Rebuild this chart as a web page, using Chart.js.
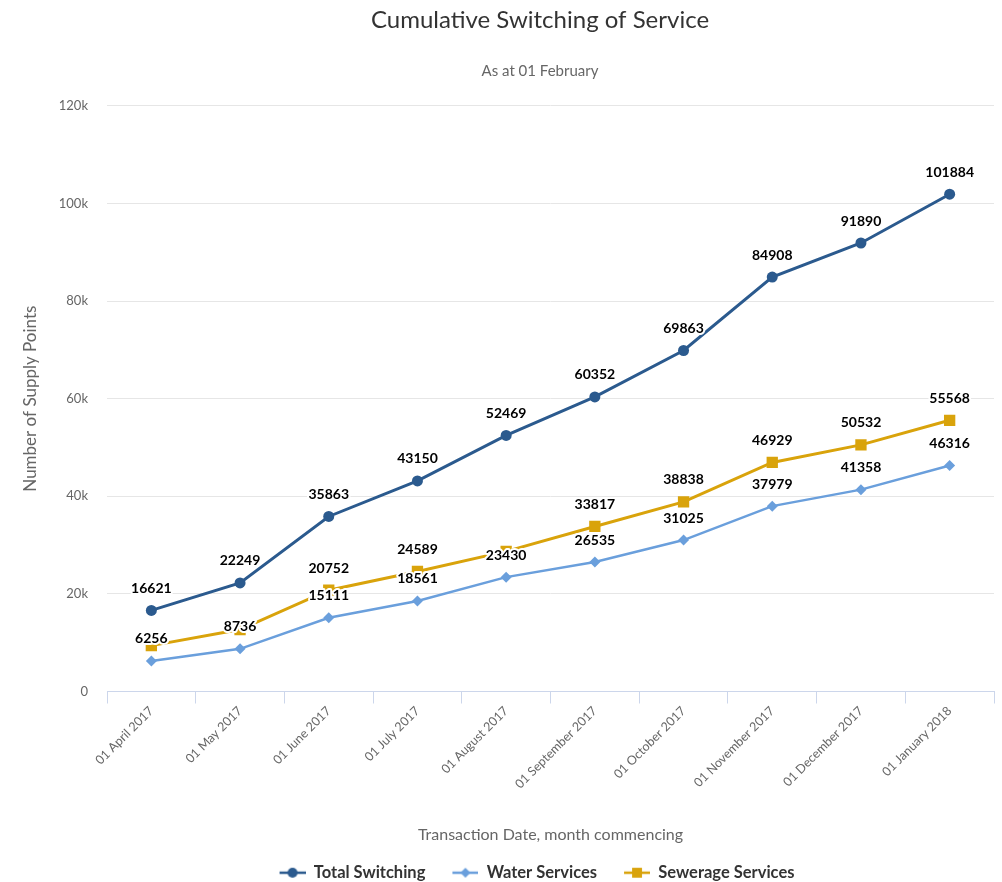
<!DOCTYPE html>
<html>
<head>
<meta charset="utf-8">
<script src="https://cdn.jsdelivr.net/npm/chart.js@4/dist/chart.umd.min.js"></script>
<style>
  html, body { margin: 0; padding: 0; background: #fff; overflow: hidden; }
  #wrap { width: 1002px; height: 882px; }
</style>
</head>
<body>
<div id="wrap"><canvas id="switchChart" width="1002" height="882"></canvas></div>
<script>
// month commencing
const categories = [
    "01 April 2017", "01 May 2017", "01 June 2017", "01 July 2017", "01 August 2017",
    "01 September 2017", "01 October 2017", "01 November 2017", "01 December 2017", "01 January 2018"
];
const totalSwitching = [16621, 22249, 35863, 43150, 52469, 60352, 69863, 84908, 91890, 101884];
const waterServices = [6256, 8736, 15111, 18561, 23430, 26535, 31025, 37979, 41358, 46316];
const sewerageServices = [9400, 12700, 20752, 24589, 28700, 33817, 38838, 46929, 50532, 55568];

const yMax = 120000;
const yStep = 20000;

const FONT = "Lato, 'Open Sans', sans-serif";
const colours = { total: "#2b5a8e", water: "#6a9fdc", sewerage: "#d9a30b" };

// title and legend are centred on this x rather than on the canvas middle
const HEADER_CENTRE = 540;
// legend symbols sit at the right of a wider box, so its block is pulled left a bit
const LEGEND_CENTRE = 527;
const LEGEND_DROP = 9;

// small line + marker picture for each legend entry
function legendSymbol(color, style, radius) {
    const c = document.createElement("canvas");
    c.width = 46; c.height = 16;
    const g = c.getContext("2d");
    g.strokeStyle = color;
    g.lineWidth = 2.5;
    g.beginPath();
    g.moveTo(20, 8);
    g.lineTo(46, 8);
    g.stroke();
    g.fillStyle = color;
    Chart.helpers.drawPoint(g, { pointStyle: style, radius: radius, rotation: 0, borderWidth: 0 }, 33, 8);
    return c;
}

// value labels above the points, skipping any that would collide with one already drawn
const pointLabels = {
    id: "pointLabels",
    afterDatasetsDraw(chart) {
        const ctx = chart.ctx;
        ctx.save();
        ctx.font = "bold 14px " + FONT;
        ctx.textAlign = "center";
        ctx.textBaseline = "middle";
        ctx.lineJoin = "round";
        const placed = [];
        chart.data.datasets.forEach((ds, i) => {
            const meta = chart.getDatasetMeta(i);
            meta.data.forEach((pt, j) => {
                const text = String(ds.data[j]);
                const w = ctx.measureText(text).width + 10;
                const h = 26;
                const cy = pt.y - 22;
                const box = { x: pt.x - w / 2, y: cy - h / 2, w: w, h: h };
                const hit = placed.some(b =>
                    box.x < b.x + b.w && b.x < box.x + box.w &&
                    box.y < b.y + b.h && b.y < box.y + box.h);
                if (hit) return;
                placed.push(box);
                ctx.strokeStyle = "#fff";
                ctx.lineWidth = 4;
                ctx.strokeText(text, pt.x, cy);
                ctx.fillStyle = "#000";
                ctx.fillText(text, pt.x, cy);
            });
        });
        ctx.restore();
    }
};

// move title, subtitle and legend boxes so they centre where wanted,
// and drop the legend a little closer to the bottom edge
const centreHeader = {
    id: "centreHeader",
    afterLayout(chart) {
        chart.boxes.forEach(box => {
            if (box instanceof Chart.Scale) return;
            if (box.position !== "top" && box.position !== "bottom") return;
            const centre = box === chart.legend ? LEGEND_CENTRE : HEADER_CENTRE;
            box.left = 0;
            box.right = centre * 2;
            box.width = box.right - box.left;
            if (box === chart.legend) {
                box.top += LEGEND_DROP;
                box.bottom += LEGEND_DROP;
            }
        });
    }
};

const ctx = document.getElementById("switchChart").getContext("2d");

const switchChart = new Chart(ctx, {
    type: "line",
    data: {
        labels: categories,
        datasets: [{
            label: "Total Switching",
            data: totalSwitching,
            borderColor: colours.total,
            backgroundColor: colours.total,
            borderWidth: 3,
            pointStyle: "circle",
            pointRadius: 5.5,
            pointHoverRadius: 5.5,
            pointBorderWidth: 0,
            symbol: legendSymbol(colours.total, "circle", 5)
        }, {
            label: "Water Services",
            data: waterServices,
            borderColor: colours.water,
            backgroundColor: colours.water,
            borderWidth: 2.5,
            pointStyle: "rectRot",
            pointRadius: 5.5,
            pointHoverRadius: 5.5,
            pointBorderWidth: 0,
            symbol: legendSymbol(colours.water, "rectRot", 5)
        }, {
            label: "Sewerage Services",
            data: sewerageServices,
            borderColor: colours.sewerage,
            backgroundColor: colours.sewerage,
            borderWidth: 3,
            pointStyle: "rect",
            pointRadius: 8,
            pointHoverRadius: 8,
            pointBorderWidth: 0,
            symbol: legendSymbol(colours.sewerage, "rect", 7)
        }]
    },
    options: {
        responsive: false,
        animation: false,
        tension: 0,
        layout: { padding: { left: 0, right: 7, top: 0, bottom: 0 } },
        plugins: {
            title: {
                display: true,
                text: "Cumulative Switching of Service",
                color: "#333",
                font: { family: FONT, size: 24, weight: "normal" },
                padding: { top: 6, bottom: 27 }
            },
            subtitle: {
                display: true,
                text: "As at 01 February",
                color: "#666",
                font: { family: FONT, size: 15, weight: "normal" },
                padding: { top: 0, bottom: 26 }
            },
            legend: {
                position: "bottom",
                labels: {
                    usePointStyle: true,
                    pointStyleWidth: 46,
                    padding: 7,
                    color: "#333",
                    font: { family: FONT, size: 16.5, weight: "bold" },
                    generateLabels(chart) {
                        return chart.data.datasets.map((ds, i) => ({
                            text: ds.label,
                            fontColor: "#333",
                            pointStyle: ds.symbol,
                            lineWidth: 0,
                            hidden: false,
                            datasetIndex: i
                        }));
                    }
                }
            },
            tooltip: { enabled: false }
        },
        scales: {
            x: {
                offset: true,
                grid: {
                    offset: true,
                    drawOnChartArea: false,
                    drawTicks: true,
                    tickLength: 12,
                    tickColor: "#ccd6eb"
                },
                border: { color: "#ccd6eb", width: 1 },
                ticks: {
                    color: "#666",
                    font: { family: FONT, size: 12.5 },
                    minRotation: 45,
                    maxRotation: 45,
                    autoSkip: false,
                    padding: 0
                },
                title: {
                    display: true,
                    text: "Transaction Date, month commencing",
                    color: "#666",
                    font: { family: FONT, size: 16 },
                    padding: { top: 0, bottom: 4 }
                },
                afterFit(scale) { scale.height = 157; }
            },
            y: {
                min: 0,
                max: yMax,
                grid: { color: "#e6e6e6", drawTicks: false },
                border: { display: false },
                ticks: {
                    stepSize: yStep,
                    color: "#666",
                    font: { family: FONT, size: 13 },
                    padding: 19,
                    callback: v => v === 0 ? "0" : (v / 1000) + "k"
                },
                title: {
                    display: true,
                    text: "Number of Supply Points",
                    color: "#666",
                    font: { family: FONT, size: 17 },
                    padding: { top: 20, bottom: 0 }
                },
                afterFit(scale) { scale.width = 107; }
            }
        }
    },
    plugins: [pointLabels, centreHeader]
});
</script>
</body>
</html>
